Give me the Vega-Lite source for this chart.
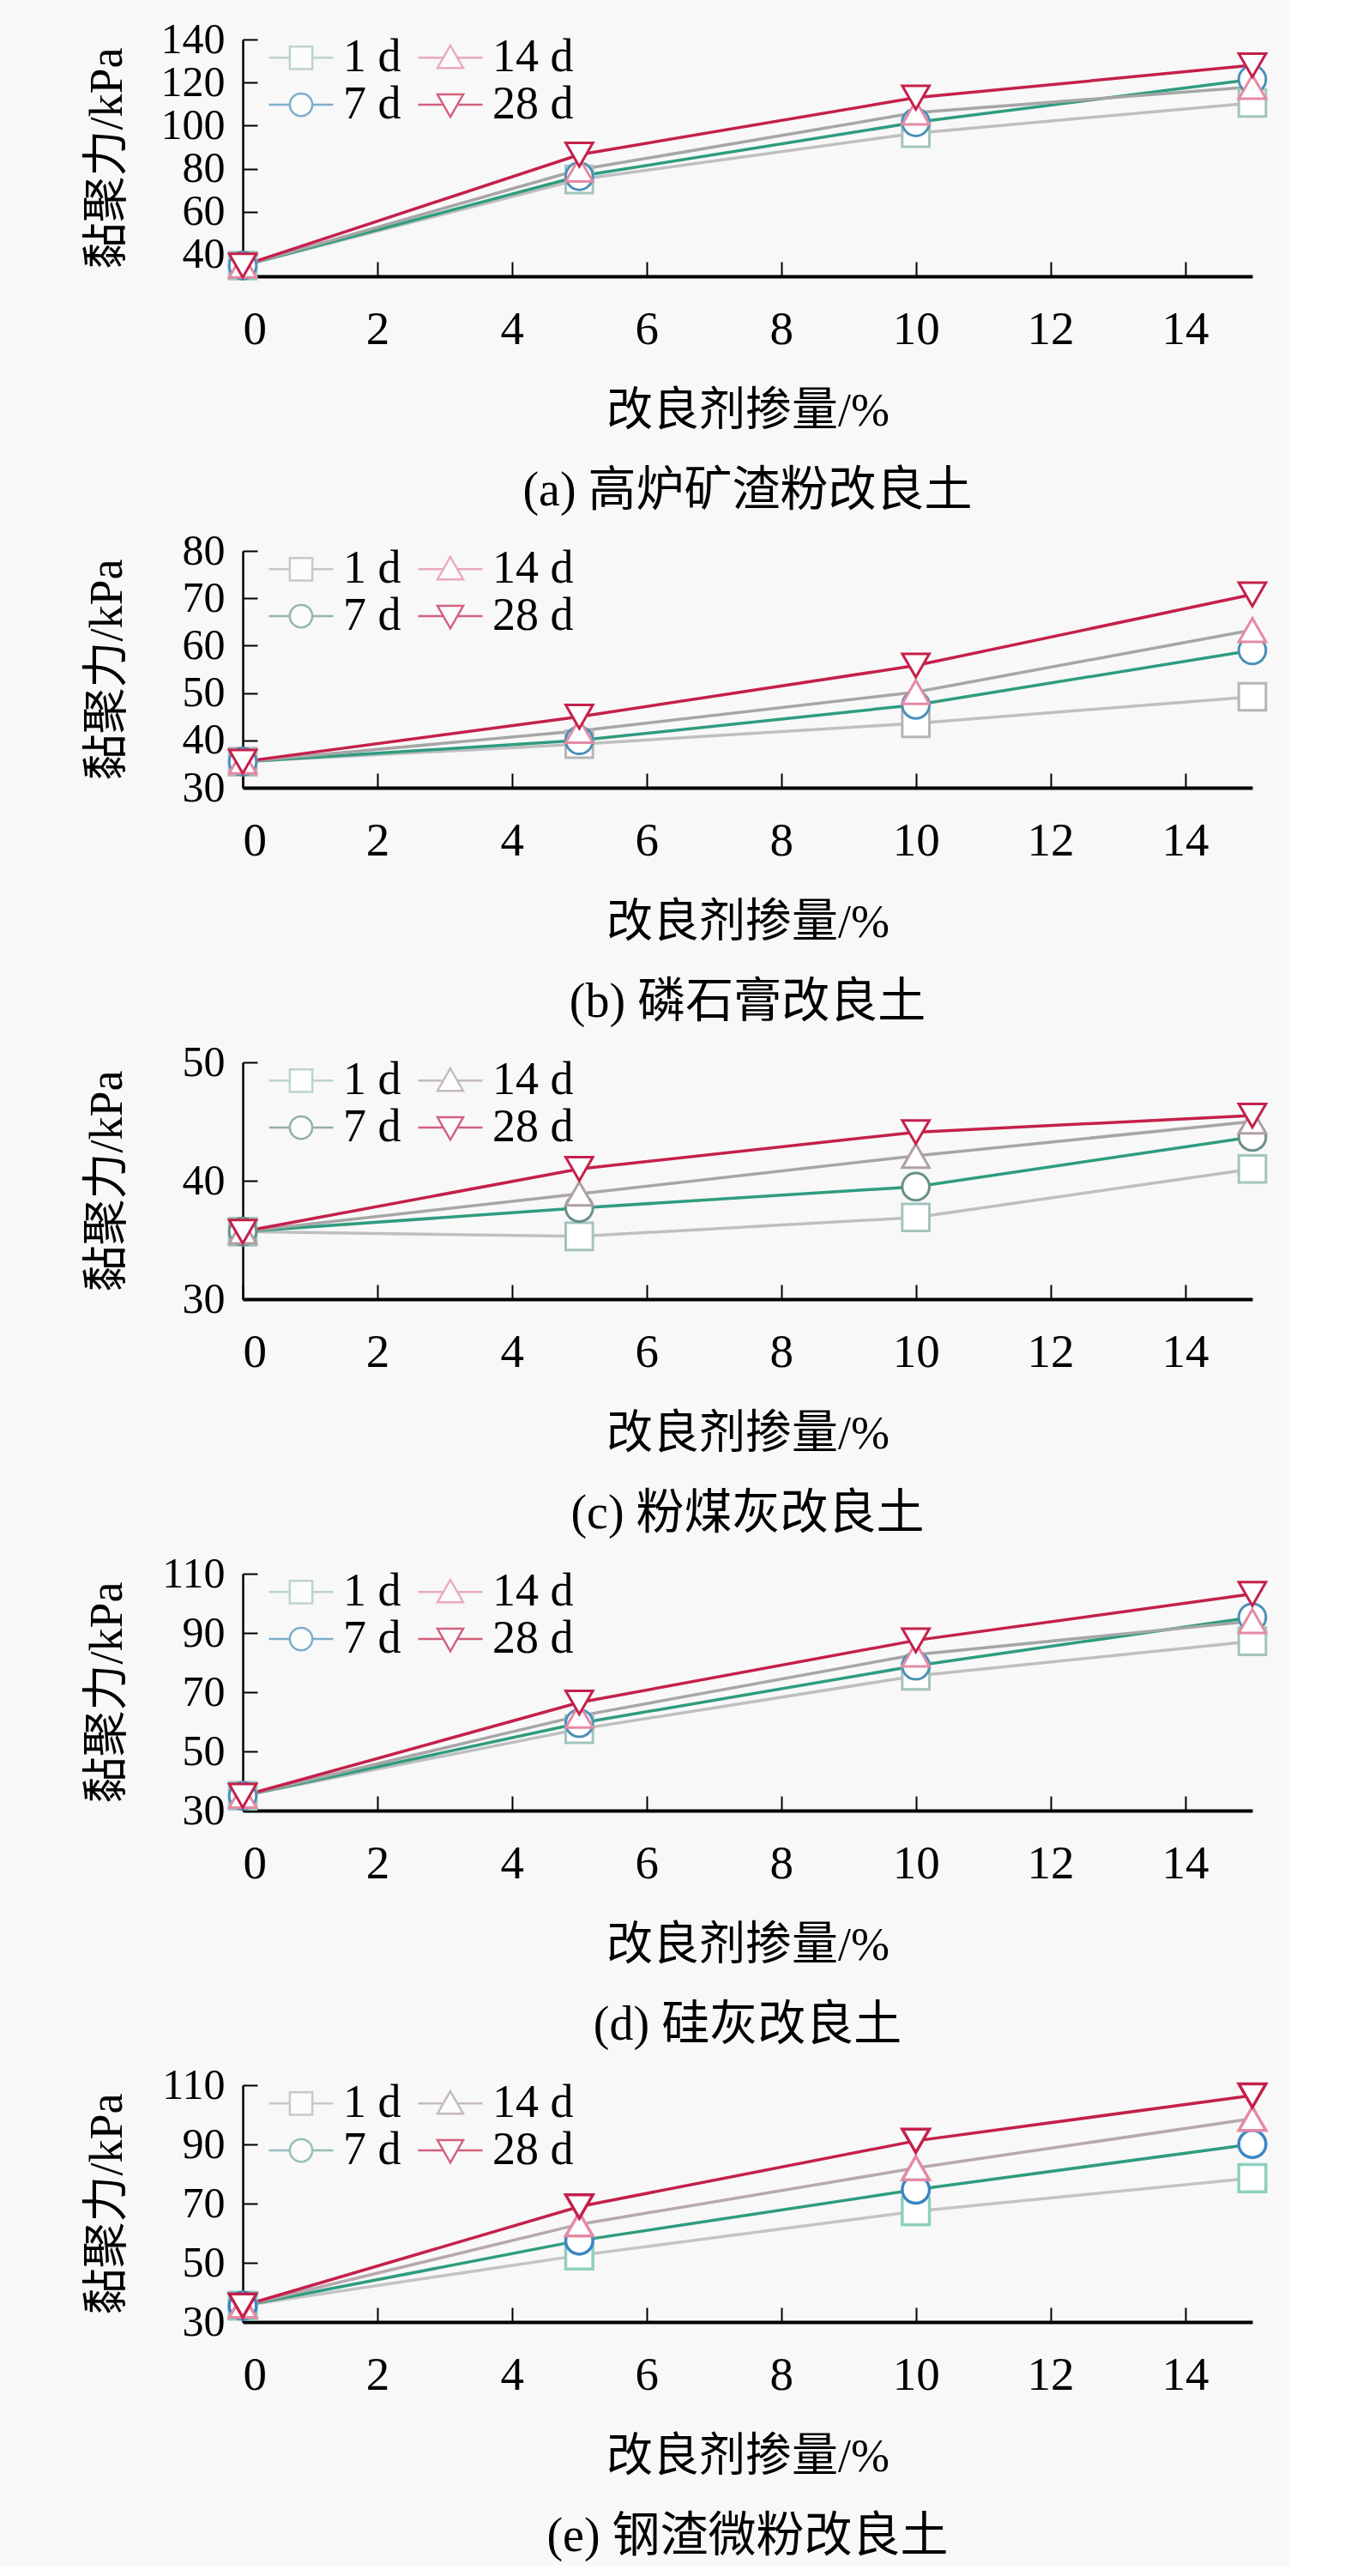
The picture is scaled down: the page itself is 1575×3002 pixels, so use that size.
{
  "$schema": "https://vega.github.io/schema/vega-lite/v6.json",
  "background": "#f8f8f8",
  "padding": {"left": 98, "top": 21, "right": 20, "bottom": 6},
  "spacing": 17,
  "data": {
    "values": [
      {"panel": "a", "dose": 0, "series": "1 d", "c": 35},
      {"panel": "a", "dose": 5, "series": "1 d", "c": 75},
      {"panel": "a", "dose": 10, "series": "1 d", "c": 96.5},
      {"panel": "a", "dose": 15, "series": "1 d", "c": 110.5},
      {"panel": "a", "dose": 0, "series": "7 d", "c": 35},
      {"panel": "a", "dose": 5, "series": "7 d", "c": 76.5},
      {"panel": "a", "dose": 10, "series": "7 d", "c": 101.5},
      {"panel": "a", "dose": 15, "series": "7 d", "c": 121.5},
      {"panel": "a", "dose": 0, "series": "14 d", "c": 35},
      {"panel": "a", "dose": 5, "series": "14 d", "c": 79.5},
      {"panel": "a", "dose": 10, "series": "14 d", "c": 106},
      {"panel": "a", "dose": 15, "series": "14 d", "c": 118},
      {"panel": "a", "dose": 0, "series": "28 d", "c": 35},
      {"panel": "a", "dose": 5, "series": "28 d", "c": 86.5},
      {"panel": "a", "dose": 10, "series": "28 d", "c": 113},
      {"panel": "a", "dose": 15, "series": "28 d", "c": 128},

      {"panel": "b", "dose": 0, "series": "1 d", "c": 35.5},
      {"panel": "b", "dose": 5, "series": "1 d", "c": 39.2},
      {"panel": "b", "dose": 10, "series": "1 d", "c": 43.6},
      {"panel": "b", "dose": 15, "series": "1 d", "c": 49.2},
      {"panel": "b", "dose": 0, "series": "7 d", "c": 35.5},
      {"panel": "b", "dose": 5, "series": "7 d", "c": 40},
      {"panel": "b", "dose": 10, "series": "7 d", "c": 47.5},
      {"panel": "b", "dose": 15, "series": "7 d", "c": 59},
      {"panel": "b", "dose": 0, "series": "14 d", "c": 35.5},
      {"panel": "b", "dose": 5, "series": "14 d", "c": 42},
      {"panel": "b", "dose": 10, "series": "14 d", "c": 50.2},
      {"panel": "b", "dose": 15, "series": "14 d", "c": 63.3},
      {"panel": "b", "dose": 0, "series": "28 d", "c": 35.5},
      {"panel": "b", "dose": 5, "series": "28 d", "c": 45},
      {"panel": "b", "dose": 10, "series": "28 d", "c": 55.8},
      {"panel": "b", "dose": 15, "series": "28 d", "c": 70.8},

      {"panel": "c", "dose": 0, "series": "1 d", "c": 35.7},
      {"panel": "c", "dose": 5, "series": "1 d", "c": 35.3},
      {"panel": "c", "dose": 10, "series": "1 d", "c": 36.9},
      {"panel": "c", "dose": 15, "series": "1 d", "c": 41},
      {"panel": "c", "dose": 0, "series": "7 d", "c": 35.7},
      {"panel": "c", "dose": 5, "series": "7 d", "c": 37.7},
      {"panel": "c", "dose": 10, "series": "7 d", "c": 39.5},
      {"panel": "c", "dose": 15, "series": "7 d", "c": 43.7},
      {"panel": "c", "dose": 0, "series": "14 d", "c": 35.7},
      {"panel": "c", "dose": 5, "series": "14 d", "c": 38.9},
      {"panel": "c", "dose": 10, "series": "14 d", "c": 42.1},
      {"panel": "c", "dose": 15, "series": "14 d", "c": 45},
      {"panel": "c", "dose": 0, "series": "28 d", "c": 35.7},
      {"panel": "c", "dose": 5, "series": "28 d", "c": 41},
      {"panel": "c", "dose": 10, "series": "28 d", "c": 44.1},
      {"panel": "c", "dose": 15, "series": "28 d", "c": 45.5},

      {"panel": "d", "dose": 0, "series": "1 d", "c": 35},
      {"panel": "d", "dose": 5, "series": "1 d", "c": 57.5},
      {"panel": "d", "dose": 10, "series": "1 d", "c": 75.5},
      {"panel": "d", "dose": 15, "series": "1 d", "c": 87.2},
      {"panel": "d", "dose": 0, "series": "7 d", "c": 35},
      {"panel": "d", "dose": 5, "series": "7 d", "c": 59.5},
      {"panel": "d", "dose": 10, "series": "7 d", "c": 78.9},
      {"panel": "d", "dose": 15, "series": "7 d", "c": 95.3},
      {"panel": "d", "dose": 0, "series": "14 d", "c": 35},
      {"panel": "d", "dose": 5, "series": "14 d", "c": 62},
      {"panel": "d", "dose": 10, "series": "14 d", "c": 82.7},
      {"panel": "d", "dose": 15, "series": "14 d", "c": 94},
      {"panel": "d", "dose": 0, "series": "28 d", "c": 35},
      {"panel": "d", "dose": 5, "series": "28 d", "c": 66.5},
      {"panel": "d", "dose": 10, "series": "28 d", "c": 87.5},
      {"panel": "d", "dose": 15, "series": "28 d", "c": 103.2},

      {"panel": "e", "dose": 0, "series": "1 d", "c": 35.5},
      {"panel": "e", "dose": 5, "series": "1 d", "c": 52.5},
      {"panel": "e", "dose": 10, "series": "1 d", "c": 67.4},
      {"panel": "e", "dose": 15, "series": "1 d", "c": 78.6},
      {"panel": "e", "dose": 0, "series": "7 d", "c": 35.5},
      {"panel": "e", "dose": 5, "series": "7 d", "c": 57.5},
      {"panel": "e", "dose": 10, "series": "7 d", "c": 74.7},
      {"panel": "e", "dose": 15, "series": "7 d", "c": 90.1},
      {"panel": "e", "dose": 0, "series": "14 d", "c": 35.5},
      {"panel": "e", "dose": 5, "series": "14 d", "c": 63},
      {"panel": "e", "dose": 10, "series": "14 d", "c": 82},
      {"panel": "e", "dose": 15, "series": "14 d", "c": 98.7},
      {"panel": "e", "dose": 0, "series": "28 d", "c": 35.5},
      {"panel": "e", "dose": 5, "series": "28 d", "c": 69},
      {"panel": "e", "dose": 10, "series": "28 d", "c": 91.2},
      {"panel": "e", "dose": 15, "series": "28 d", "c": 106.5}
    ]
  },
  "resolve": {
    "scale": {"color": "independent", "stroke": "independent", "shape": "independent"},
    "legend": {"color": "independent", "stroke": "independent", "shape": "independent"}
  },
  "vconcat": [
    {
      "width": 1177, "height": 276,
      "title": {"text": "(a) 高炉矿渣粉改良土"},
      "transform": [{"filter": "datum.panel === 'a'"}],
      "encoding": {
        "x": {"field": "dose", "type": "quantitative", "title": "改良剂掺量/%", "scale": {"domain": [0, 15]}, "axis": {"values": [0, 2, 4, 6, 8, 10, 12, 14]}},
        "y": {"field": "c", "type": "quantitative", "title": "黏聚力/kPa", "scale": {"domain": [30, 140]}, "axis": {"values": [40, 60, 80, 100, 120, 140]}}
      },
      "resolve": {"scale": {"shape": "independent", "stroke": "independent"}},
      "layer": [
        {"mark": {"type": "line", "strokeWidth": 3.5},
         "encoding": {"color": {"field": "series", "type": "nominal", "legend": null, "scale": {"domain": ["28 d", "14 d", "7 d", "1 d"], "range": ["#c4204b", "#a6a6a6", "#2f9c7f", "#bfbfbf"]}}}},
        {"mark": {"type": "point", "filled": true, "fill": "#ffffff", "size": 1000, "strokeWidth": 3, "opacity": 1},
         "encoding": {
           "stroke": {"field": "series", "type": "nominal", "legend": null, "scale": {"domain": ["14 d", "1 d", "28 d", "7 d"], "range": ["#e48aa5", "#a3c4be", "#c4204b", "#4a90b8"]}},
           "shape": {"field": "series", "type": "nominal", "legend": null, "scale": {"domain": ["14 d", "1 d", "28 d", "7 d"], "range": ["triangle-up", "square", "triangle-down", "circle"]}}
         }},
        {"transform": [{"filter": "datum.dose < 0"}],
         "mark": {"type": "point", "filled": true, "fill": "#ffffff", "strokeWidth": 2.5},
         "encoding": {
           "stroke": {"field": "series", "type": "nominal", "scale": {"domain": ["1 d", "7 d", "14 d", "28 d"], "range": ["#a3c4be", "#4a90b8", "#e48aa5", "#c4204b"]},
             "legend": {"orient": "none", "legendX": 29, "legendY": -1.5, "title": null, "columns": 2, "columnPadding": 18, "rowPadding": 0, "clipHeight": 45, "symbolSize": 5625, "symbolStrokeWidth": 2.5, "labelOffset": 10}},
           "shape": {"field": "series", "type": "nominal", "scale": {"domain": ["1 d", "7 d", "14 d", "28 d"], "range": ["M-1,0H-0.35M0.35,0H1M-0.35,-0.35H0.35V0.35H-0.35Z", "M-1,0H-0.35M0.35,0H1M-0.35,0A0.35,0.35,0,1,1,0.35,0A0.35,0.35,0,1,1,-0.35,0Z", "M-1,0H-0.2M0.2,0H1M0,-0.38L0.4,0.32H-0.4Z", "M-1,0H-0.2M0.2,0H1M-0.4,-0.32H0.4L0,0.38Z"]},
             "legend": {"orient": "none", "legendX": 29, "legendY": -1.5, "title": null, "columns": 2, "columnPadding": 18, "rowPadding": 0, "clipHeight": 45, "symbolSize": 5625, "symbolStrokeWidth": 2.5, "labelOffset": 10}}
         }}
      ]
    },
    {
      "width": 1177, "height": 276,
      "title": {"text": "(b) 磷石膏改良土"},
      "transform": [{"filter": "datum.panel === 'b'"}],
      "encoding": {
        "x": {"field": "dose", "type": "quantitative", "title": "改良剂掺量/%", "scale": {"domain": [0, 15]}, "axis": {"values": [0, 2, 4, 6, 8, 10, 12, 14]}},
        "y": {"field": "c", "type": "quantitative", "title": "黏聚力/kPa", "scale": {"domain": [30, 80]}, "axis": {"values": [30, 40, 50, 60, 70, 80]}}
      },
      "resolve": {"scale": {"shape": "independent", "stroke": "independent"}},
      "layer": [
        {"mark": {"type": "line", "strokeWidth": 3.5},
         "encoding": {"color": {"field": "series", "type": "nominal", "legend": null, "scale": {"domain": ["28 d", "14 d", "7 d", "1 d"], "range": ["#c4204b", "#a6a6a6", "#2f9c7f", "#bfbfbf"]}}}},
        {"mark": {"type": "point", "filled": true, "fill": "#ffffff", "size": 1000, "strokeWidth": 3, "opacity": 1},
         "encoding": {
           "stroke": {"field": "series", "type": "nominal", "legend": null, "scale": {"domain": ["14 d", "1 d", "28 d", "7 d"], "range": ["#e48aa5", "#b5b5b5", "#c4204b", "#4a90b8"]}},
           "shape": {"field": "series", "type": "nominal", "legend": null, "scale": {"domain": ["14 d", "1 d", "28 d", "7 d"], "range": ["triangle-up", "square", "triangle-down", "circle"]}}
         }},
        {"transform": [{"filter": "datum.dose < 0"}],
         "mark": {"type": "point", "filled": true, "fill": "#ffffff", "strokeWidth": 2.5},
         "encoding": {
           "stroke": {"field": "series", "type": "nominal", "scale": {"domain": ["1 d", "7 d", "14 d", "28 d"], "range": ["#b5b5b5", "#6a9a94", "#e48aa5", "#c4204b"]},
             "legend": {"orient": "none", "legendX": 29, "legendY": -1.5, "title": null, "columns": 2, "columnPadding": 18, "rowPadding": 0, "clipHeight": 45, "symbolSize": 5625, "symbolStrokeWidth": 2.5, "labelOffset": 10}},
           "shape": {"field": "series", "type": "nominal", "scale": {"domain": ["1 d", "7 d", "14 d", "28 d"], "range": ["M-1,0H-0.35M0.35,0H1M-0.35,-0.35H0.35V0.35H-0.35Z", "M-1,0H-0.35M0.35,0H1M-0.35,0A0.35,0.35,0,1,1,0.35,0A0.35,0.35,0,1,1,-0.35,0Z", "M-1,0H-0.2M0.2,0H1M0,-0.38L0.4,0.32H-0.4Z", "M-1,0H-0.2M0.2,0H1M-0.4,-0.32H0.4L0,0.38Z"]},
             "legend": {"orient": "none", "legendX": 29, "legendY": -1.5, "title": null, "columns": 2, "columnPadding": 18, "rowPadding": 0, "clipHeight": 45, "symbolSize": 5625, "symbolStrokeWidth": 2.5, "labelOffset": 10}}
         }}
      ]
    },
    {
      "width": 1177, "height": 276,
      "title": {"text": "(c) 粉煤灰改良土"},
      "transform": [{"filter": "datum.panel === 'c'"}],
      "encoding": {
        "x": {"field": "dose", "type": "quantitative", "title": "改良剂掺量/%", "scale": {"domain": [0, 15]}, "axis": {"values": [0, 2, 4, 6, 8, 10, 12, 14]}},
        "y": {"field": "c", "type": "quantitative", "title": "黏聚力/kPa", "scale": {"domain": [30, 50]}, "axis": {"values": [30, 40, 50]}}
      },
      "resolve": {"scale": {"shape": "independent", "stroke": "independent"}},
      "layer": [
        {"mark": {"type": "line", "strokeWidth": 3.5},
         "encoding": {"color": {"field": "series", "type": "nominal", "legend": null, "scale": {"domain": ["28 d", "14 d", "7 d", "1 d"], "range": ["#c4204b", "#a6a6a6", "#2f9c7f", "#bfbfbf"]}}}},
        {"mark": {"type": "point", "filled": true, "fill": "#ffffff", "size": 1000, "strokeWidth": 3, "opacity": 1},
         "encoding": {
           "stroke": {"field": "series", "type": "nominal", "legend": null, "scale": {"domain": ["14 d", "1 d", "28 d", "7 d"], "range": ["#b0a0a6", "#a3c4be", "#c4204b", "#6a8f8a"]}},
           "shape": {"field": "series", "type": "nominal", "legend": null, "scale": {"domain": ["14 d", "1 d", "28 d", "7 d"], "range": ["triangle-up", "square", "triangle-down", "circle"]}}
         }},
        {"transform": [{"filter": "datum.dose < 0"}],
         "mark": {"type": "point", "filled": true, "fill": "#ffffff", "strokeWidth": 2.5},
         "encoding": {
           "stroke": {"field": "series", "type": "nominal", "scale": {"domain": ["1 d", "7 d", "14 d", "28 d"], "range": ["#a3c4be", "#6a8f8a", "#b0a0a6", "#c4204b"]},
             "legend": {"orient": "none", "legendX": 29, "legendY": -1.5, "title": null, "columns": 2, "columnPadding": 18, "rowPadding": 0, "clipHeight": 45, "symbolSize": 5625, "symbolStrokeWidth": 2.5, "labelOffset": 10}},
           "shape": {"field": "series", "type": "nominal", "scale": {"domain": ["1 d", "7 d", "14 d", "28 d"], "range": ["M-1,0H-0.35M0.35,0H1M-0.35,-0.35H0.35V0.35H-0.35Z", "M-1,0H-0.35M0.35,0H1M-0.35,0A0.35,0.35,0,1,1,0.35,0A0.35,0.35,0,1,1,-0.35,0Z", "M-1,0H-0.2M0.2,0H1M0,-0.38L0.4,0.32H-0.4Z", "M-1,0H-0.2M0.2,0H1M-0.4,-0.32H0.4L0,0.38Z"]},
             "legend": {"orient": "none", "legendX": 29, "legendY": -1.5, "title": null, "columns": 2, "columnPadding": 18, "rowPadding": 0, "clipHeight": 45, "symbolSize": 5625, "symbolStrokeWidth": 2.5, "labelOffset": 10}}
         }}
      ]
    },
    {
      "width": 1177, "height": 276,
      "title": {"text": "(d) 硅灰改良土"},
      "transform": [{"filter": "datum.panel === 'd'"}],
      "encoding": {
        "x": {"field": "dose", "type": "quantitative", "title": "改良剂掺量/%", "scale": {"domain": [0, 15]}, "axis": {"values": [0, 2, 4, 6, 8, 10, 12, 14]}},
        "y": {"field": "c", "type": "quantitative", "title": "黏聚力/kPa", "scale": {"domain": [30, 110]}, "axis": {"values": [30, 50, 70, 90, 110]}}
      },
      "resolve": {"scale": {"shape": "independent", "stroke": "independent"}},
      "layer": [
        {"mark": {"type": "line", "strokeWidth": 3.5},
         "encoding": {"color": {"field": "series", "type": "nominal", "legend": null, "scale": {"domain": ["28 d", "14 d", "7 d", "1 d"], "range": ["#c4204b", "#a6a6a6", "#2f9c7f", "#bfbfbf"]}}}},
        {"mark": {"type": "point", "filled": true, "fill": "#ffffff", "size": 1000, "strokeWidth": 3, "opacity": 1},
         "encoding": {
           "stroke": {"field": "series", "type": "nominal", "legend": null, "scale": {"domain": ["14 d", "1 d", "28 d", "7 d"], "range": ["#e48aa5", "#a3c4be", "#c4204b", "#4a90b8"]}},
           "shape": {"field": "series", "type": "nominal", "legend": null, "scale": {"domain": ["14 d", "1 d", "28 d", "7 d"], "range": ["triangle-up", "square", "triangle-down", "circle"]}}
         }},
        {"transform": [{"filter": "datum.dose < 0"}],
         "mark": {"type": "point", "filled": true, "fill": "#ffffff", "strokeWidth": 2.5},
         "encoding": {
           "stroke": {"field": "series", "type": "nominal", "scale": {"domain": ["1 d", "7 d", "14 d", "28 d"], "range": ["#a3c4be", "#4a90b8", "#e48aa5", "#c4204b"]},
             "legend": {"orient": "none", "legendX": 29, "legendY": -1.5, "title": null, "columns": 2, "columnPadding": 18, "rowPadding": 0, "clipHeight": 45, "symbolSize": 5625, "symbolStrokeWidth": 2.5, "labelOffset": 10}},
           "shape": {"field": "series", "type": "nominal", "scale": {"domain": ["1 d", "7 d", "14 d", "28 d"], "range": ["M-1,0H-0.35M0.35,0H1M-0.35,-0.35H0.35V0.35H-0.35Z", "M-1,0H-0.35M0.35,0H1M-0.35,0A0.35,0.35,0,1,1,0.35,0A0.35,0.35,0,1,1,-0.35,0Z", "M-1,0H-0.2M0.2,0H1M0,-0.38L0.4,0.32H-0.4Z", "M-1,0H-0.2M0.2,0H1M-0.4,-0.32H0.4L0,0.38Z"]},
             "legend": {"orient": "none", "legendX": 29, "legendY": -1.5, "title": null, "columns": 2, "columnPadding": 18, "rowPadding": 0, "clipHeight": 45, "symbolSize": 5625, "symbolStrokeWidth": 2.5, "labelOffset": 10}}
         }}
      ]
    },
    {
      "width": 1177, "height": 276,
      "title": {"text": "(e) 钢渣微粉改良土"},
      "transform": [{"filter": "datum.panel === 'e'"}],
      "encoding": {
        "x": {"field": "dose", "type": "quantitative", "title": "改良剂掺量/%", "scale": {"domain": [0, 15]}, "axis": {"values": [0, 2, 4, 6, 8, 10, 12, 14]}},
        "y": {"field": "c", "type": "quantitative", "title": "黏聚力/kPa", "scale": {"domain": [30, 110]}, "axis": {"values": [30, 50, 70, 90, 110]}}
      },
      "resolve": {"scale": {"shape": "independent", "stroke": "independent"}},
      "layer": [
        {"mark": {"type": "line", "strokeWidth": 3.5},
         "encoding": {"color": {"field": "series", "type": "nominal", "legend": null, "scale": {"domain": ["28 d", "14 d", "7 d", "1 d"], "range": ["#c4204b", "#b8a8ae", "#2f9c7f", "#c4c4c4"]}}}},
        {"mark": {"type": "point", "filled": true, "fill": "#ffffff", "size": 1000, "strokeWidth": 3.5, "opacity": 1},
         "encoding": {
           "stroke": {"field": "series", "type": "nominal", "legend": null, "scale": {"domain": ["14 d", "1 d", "28 d", "7 d"], "range": ["#e48aa5", "#8fcfc0", "#c4204b", "#3a86c4"]}},
           "shape": {"field": "series", "type": "nominal", "legend": null, "scale": {"domain": ["14 d", "1 d", "28 d", "7 d"], "range": ["triangle-up", "square", "triangle-down", "circle"]}}
         }},
        {"transform": [{"filter": "datum.dose < 0"}],
         "mark": {"type": "point", "filled": true, "fill": "#ffffff", "strokeWidth": 2.5},
         "encoding": {
           "stroke": {"field": "series", "type": "nominal", "scale": {"domain": ["1 d", "7 d", "14 d", "28 d"], "range": ["#b5b5b5", "#6aa8a0", "#b0a0a6", "#c4204b"]},
             "legend": {"orient": "none", "legendX": 29, "legendY": -1.5, "title": null, "columns": 2, "columnPadding": 18, "rowPadding": 0, "clipHeight": 45, "symbolSize": 5625, "symbolStrokeWidth": 2.5, "labelOffset": 10}},
           "shape": {"field": "series", "type": "nominal", "scale": {"domain": ["1 d", "7 d", "14 d", "28 d"], "range": ["M-1,0H-0.35M0.35,0H1M-0.35,-0.35H0.35V0.35H-0.35Z", "M-1,0H-0.35M0.35,0H1M-0.35,0A0.35,0.35,0,1,1,0.35,0A0.35,0.35,0,1,1,-0.35,0Z", "M-1,0H-0.2M0.2,0H1M0,-0.38L0.4,0.32H-0.4Z", "M-1,0H-0.2M0.2,0H1M-0.4,-0.32H0.4L0,0.38Z"]},
             "legend": {"orient": "none", "legendX": 29, "legendY": -1.5, "title": null, "columns": 2, "columnPadding": 18, "rowPadding": 0, "clipHeight": 45, "symbolSize": 5625, "symbolStrokeWidth": 2.5, "labelOffset": 10}}
         }}
      ]
    }
  ],
  "config": {
    "view": {"stroke": null},
    "font": "Liberation Serif, Noto Sans CJK SC",
    "axis": {
      "grid": false,
      "domainColor": "#000000",
      "tickColor": "#000000",
      "labelColor": "#000000",
      "titleColor": "#000000",
      "labelFont": "Liberation Serif",
      "labelFontSize": 55,
      "labelOverlap": false,
      "titleFont": "Liberation Serif, Noto Sans CJK SC",
      "titleFontSize": 54,
      "titleFontWeight": "normal",
      "tickSize": -17,
      "tickWidth": 2
    },
    "axisX": {"domainWidth": 4, "labelPadding": 52, "titlePadding": 41},
    "axisY": {"domainWidth": 2.5, "labelPadding": 38, "labelFontSize": 50, "titleX": -131},
    "legend": {"labelFont": "Liberation Serif", "labelFontSize": 54, "labelColor": "#000000"},
    "title": {"orient": "bottom", "anchor": "middle", "font": "Liberation Serif, Noto Sans CJK SC", "fontSize": 56, "fontWeight": "normal", "color": "#000000", "offset": 39}
  }
}
